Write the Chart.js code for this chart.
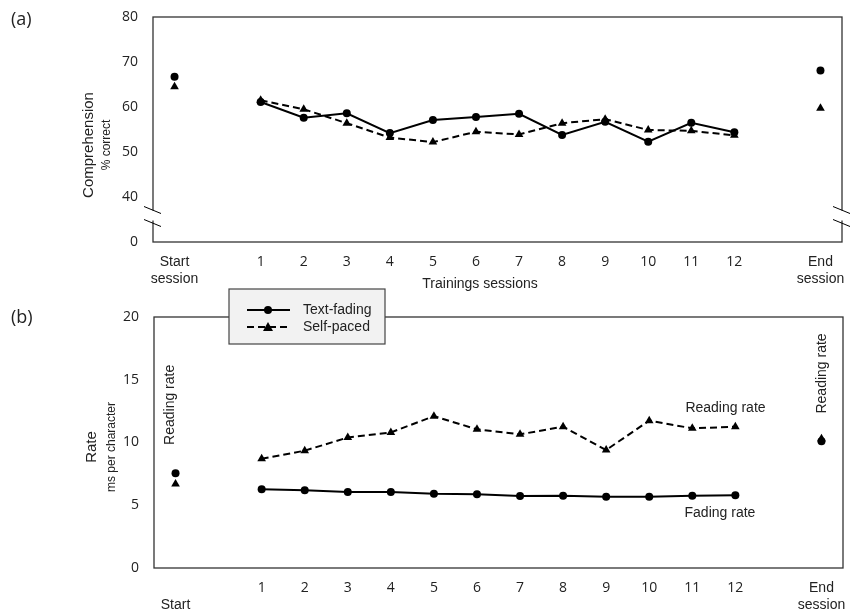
<!DOCTYPE html>
<html>
<head>
<meta charset="utf-8">
<script src="https://cdn.jsdelivr.net/npm/chart.js@4.4.1/dist/chart.umd.min.js"></script>
<style>
  body { margin: 0; background: #fff; }
  #wrap { position: relative; width: 850px; height: 615px; overflow: hidden; }
  #chart-a { position: absolute; left: 0; top: 0; }
  #chart-b { position: absolute; left: 0; top: 288px; }
</style>
</head>
<body>
<div id="wrap">
  <canvas id="chart-a" width="850" height="300"></canvas>
  <canvas id="chart-b" width="850" height="327"></canvas>
</div>
<script>
// session positions on the x axis (start / end sessions sit apart from the training run)
const sessions = [1, 2, 3, 4, 5, 6, 7, 8, 9, 10, 11, 12];
const startPos = -1;
const endPos = 14;

// (a) comprehension, % correct
const compFading = [61.1, 57.6, 58.6, 54.2, 57.1, 57.8, 58.5, 53.8, 56.7, 52.3, 56.5, 54.4];
const compSelf   = [61.5, 59.5, 56.4, 53.2, 52.2, 54.5, 53.9, 56.4, 57.3, 54.9, 54.7, 53.7];
const compStart  = [66.7, 64.5];   // [text-fading, self-paced]
const compEnd    = [68.1, 59.7];
const compTicks  = [30, 40, 50, 60, 70, 80]; // 30 is shown as "0" (broken axis)

// (b) rate, ms per character
const rateFading = [6.27, 6.19, 6.06, 6.06, 5.92, 5.87, 5.74, 5.76, 5.68, 5.68, 5.76, 5.79];
const rateSelf   = [8.70, 9.35, 10.4, 10.8, 12.1, 11.05, 10.65, 11.26, 9.4, 11.74, 11.13, 11.26];
const rateStart  = [7.55, 6.7];
const rateEnd    = [10.1, 10.3];
const rateTicks  = [0, 5, 10, 15, 20];

const xTicks = [startPos, ...sessions, endPos];

const numFont = { family: "'Open Sans', sans-serif", size: 14 };
const txtFont = "14px 'Liberation Sans', Arial, sans-serif";

function pts(xs, ys) {
  return xs.map((x, i) => ({ x: x, y: ys[i] }));
}

function makeDatasets(fading, self, start, end) {
  return [
    {
      label: 'Text-fading', data: pts(sessions, fading),
      borderColor: '#000', backgroundColor: '#000', borderWidth: 2,
      pointStyle: 'circle', pointRadius: 4, pointBackgroundColor: '#000', pointBorderWidth: 0
    },
    {
      label: 'Self-paced', data: pts(sessions, self),
      borderColor: '#000', backgroundColor: '#000', borderWidth: 2, borderDash: [7, 4],
      pointStyle: 'triangle', pointRadius: 5, pointBackgroundColor: '#000', pointBorderWidth: 0
    },
    {
      label: 'Text-fading ends', data: pts([startPos, endPos], [start[0], end[0]]),
      showLine: false, pointStyle: 'circle', pointRadius: 4,
      pointBackgroundColor: '#000', pointBorderWidth: 0
    },
    {
      label: 'Self-paced ends', data: pts([startPos, endPos], [start[1], end[1]]),
      showLine: false, pointStyle: 'triangle', pointRadius: 5,
      pointBackgroundColor: '#000', pointBorderWidth: 0
    }
  ];
}

function xScale(labels, padding, height) {
  return {
    type: 'linear', min: -1.5, max: 14.5,
    grid: { display: false, drawTicks: false },
    border: { display: false },
    afterBuildTicks: (s) => { s.ticks = xTicks.map(v => ({ value: v })); },
    afterFit: (s) => {
      s.height = height;
      s.paddingLeft = 0; s.paddingRight = 0; s.paddingTop = 0; s.paddingBottom = 0;
    },
    ticks: {
      padding: padding, color: '#222', maxRotation: 0, autoSkip: false,
      font: (c) => (c.tick && (c.tick.value === startPos || c.tick.value === endPos))
        ? { family: "'Liberation Sans', Arial, sans-serif", size: 14 } : numFont,
      callback: (v) => labels[v] !== undefined ? labels[v] : String(v)
    }
  };
}

function yScale(min, max, ticks, width, fmt) {
  return {
    type: 'linear', min: min, max: max,
    grid: { display: false, drawTicks: false },
    border: { display: false },
    afterBuildTicks: (s) => { s.ticks = ticks.map(v => ({ value: v })); },
    afterFit: (s) => {
      s.width = width;
      s.paddingLeft = 0; s.paddingRight = 0; s.paddingTop = 0; s.paddingBottom = 0;
    },
    ticks: { padding: 15, color: '#222', font: numFont, callback: fmt }
  };
}

// box around the plot area
const frame = {
  id: 'frame',
  beforeDatasetsDraw(chart) {
    const { ctx, chartArea: a } = chart;
    ctx.save();
    ctx.strokeStyle = '#333';
    ctx.lineWidth = 1.3;
    ctx.strokeRect(a.left, a.top, a.right - a.left, a.bottom - a.top);
    ctx.restore();
  }
};

function vText(ctx, text, x, y) {
  ctx.save();
  ctx.translate(x, y);
  ctx.rotate(-Math.PI / 2);
  ctx.textAlign = 'center';
  ctx.textBaseline = 'middle';
  ctx.fillText(text, 0, 0);
  ctx.restore();
}

const decorA = {
  id: 'decorA',
  afterDraw(chart) {
    const { ctx, chartArea: a, scales } = chart;
    const yb = scales.y.getPixelForValue(35);
    ctx.save();
    // axis break marks
    ctx.strokeStyle = '#000';
    ctx.lineWidth = 1;
    [a.left, a.right].forEach(x0 => {
      ctx.fillStyle = '#fff';
      ctx.fillRect(x0 - 2, yb - 9, 4, 10);
      ctx.beginPath();
      ctx.moveTo(x0 - 9, yb - 13); ctx.lineTo(x0 + 8, yb - 6);
      ctx.moveTo(x0 - 9, yb); ctx.lineTo(x0 + 8, yb + 7);
      ctx.stroke();
    });
    ctx.fillStyle = '#222';
    ctx.textBaseline = 'middle';
    ctx.font = "18px 'Open Sans', sans-serif";
    ctx.fillText('(a)', 11, 20);
    ctx.font = "15px 'Liberation Sans', Arial, sans-serif";
    vText(ctx, 'Comprehension', 89, 145);
    ctx.font = "12px 'Liberation Sans', Arial, sans-serif";
    vText(ctx, '% correct', 107, 145);
    ctx.font = txtFont;
    ctx.textAlign = 'center';
    ctx.fillText('Trainings sessions', 480, 284);
    ctx.restore();
  }
};

const decorB = {
  id: 'decorB',
  afterDraw(chart) {
    const { ctx, scales } = chart;
    const px = v => scales.x.getPixelForValue(v);
    const py = v => scales.y.getPixelForValue(v);
    ctx.save();
    ctx.fillStyle = '#222';
    ctx.textBaseline = 'middle';
    ctx.font = "18px 'Open Sans', sans-serif";
    ctx.fillText('(b)', 11, 30);
    ctx.font = "15px 'Liberation Sans', Arial, sans-serif";
    vText(ctx, 'Rate', 92, 159);
    ctx.font = "12px 'Liberation Sans', Arial, sans-serif";
    vText(ctx, 'ms per character', 112, 159);

    ctx.font = txtFont;
    vText(ctx, 'Reading rate', px(startPos) - 5, py(13.0));
    vText(ctx, 'Reading rate', px(endPos) + 1, py(15.5));
    ctx.textAlign = 'left';
    ctx.fillText('Reading rate', px(10.84), py(12.75));
    ctx.fillText('Fading rate', px(10.82), py(4.4));

    // legend box
    const lx = 229, ly = 1, lw = 156, lh = 55;
    ctx.fillStyle = '#f2f2f2';
    ctx.fillRect(lx, ly, lw, lh);
    ctx.strokeStyle = '#444';
    ctx.lineWidth = 1.2;
    ctx.strokeRect(lx, ly, lw, lh);
    const rows = [22, 39];
    [0, 1].forEach(i => {
      const ds = chart.data.datasets[i];
      const y = rows[i];
      ctx.strokeStyle = '#000';
      ctx.lineWidth = 2;
      ctx.setLineDash(ds.borderDash || []);
      ctx.beginPath();
      ctx.moveTo(247, y); ctx.lineTo(290, y);
      ctx.stroke();
      ctx.setLineDash([]);
      ctx.fillStyle = '#000';
      ctx.beginPath();
      if (ds.pointStyle === 'circle') {
        ctx.arc(268, y, 4, 0, Math.PI * 2);
      } else {
        ctx.moveTo(268, y - 5); ctx.lineTo(273, y + 4); ctx.lineTo(263, y + 4); ctx.closePath();
      }
      ctx.fill();
      ctx.fillStyle = '#222';
      ctx.font = txtFont;
      ctx.textAlign = 'left';
      ctx.fillText(ds.label, 303, y);
    });
    ctx.restore();
  }
};

const common = {
  responsive: false,
  animation: false,
  plugins: { legend: { display: false }, tooltip: { enabled: false } }
};

new Chart(document.getElementById('chart-a'), {
  type: 'line',
  data: { datasets: makeDatasets(compFading, compSelf, compStart, compEnd) },
  options: {
    ...common,
    layout: { padding: { left: 0, right: 8, top: 17, bottom: 0 } },
    scales: {
      x: xScale({ '-1': ['Start', 'session'], '14': ['End', 'session'] }, 12, 58),
      y: yScale(30, 80, compTicks, 153, v => v === 30 ? '0' : String(v))
    }
  },
  plugins: [frame, decorA]
});

new Chart(document.getElementById('chart-b'), {
  type: 'line',
  data: { datasets: makeDatasets(rateFading, rateSelf, rateStart, rateEnd) },
  options: {
    ...common,
    layout: { padding: { left: 0, right: 7, top: 29, bottom: 0 } },
    scales: {
      x: xScale({ '-1': ['', 'Start'], '14': ['End', 'session'] }, 12, 47),
      y: yScale(0, 20, rateTicks, 154, v => String(v))
    }
  },
  plugins: [frame, decorB]
});
</script>
</body>
</html>
